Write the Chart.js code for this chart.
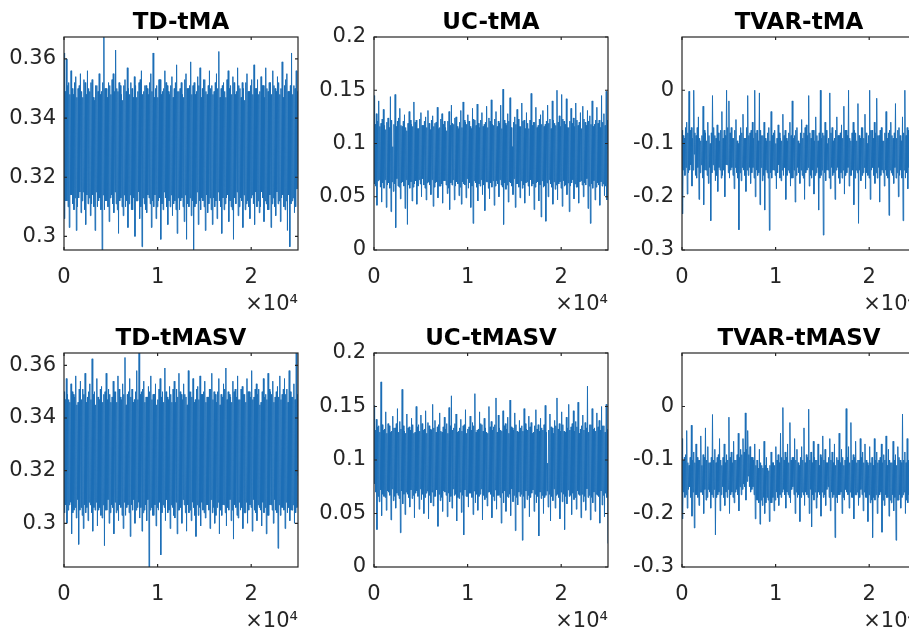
<!DOCTYPE html>
<html>
<head>
<meta charset="utf-8">
<title>Posterior draws</title>
<script src="https://cdn.jsdelivr.net/npm/chart.js@4.4.0/dist/chart.umd.min.js"></script>
<style>
  html, body { margin: 0; padding: 0; background: #fff; overflow: hidden; width: 909px; height: 634px; }
  canvas { position: absolute; }
</style>
</head>
<body>
<script>
// ---- data -------------------------------------------------------------
const panelTitles = ['TD-tMA', 'UC-tMA', 'TVAR-tMA', 'TD-tMASV', 'UC-tMASV', 'TVAR-tMASV'];
const totalIterations = 25000;
const xTickValues = [0, 10000, 20000];
const tdTicks = [0.30, 0.32, 0.34, 0.36];
const ucTicks = [0, 0.05, 0.1, 0.15, 0.2];
const tvarTicks = [-0.3, -0.2, -0.1, 0];
const ucLimits = [0, 0.2];
const tvarLimits = [-0.3, 0.1];

// thinned chains of posterior draws (evenly spaced over the run)
const tdTmaDraws = [
  0.362,0.306,0.349,0.312, 0.360,0.312,0.351,0.310, 0.352,0.303,0.348,0.314, 0.356,0.314,0.350,0.311, 0.348,0.309,0.352,0.313,
  0.354,0.302,0.347,0.310, 0.350,0.313,0.351,0.315, 0.355,0.308,0.349,0.312, 0.347,0.315,0.353,0.309, 0.352,0.304,0.348,0.314,
  0.356,0.311,0.350,0.313, 0.349,0.307,0.352,0.311, 0.353,0.314,0.347,0.310, 0.346,0.302,0.351,0.315, 0.351,0.310,0.349,0.312,
  0.355,0.313,0.348,0.309, 0.349,0.2954,0.352,0.314, 0.3674,0.309,0.350,0.312, 0.350,0.312,0.347,0.310, 0.352,0.305,0.351,0.313,
  0.348,0.314,0.353,0.311, 0.355,0.308,0.349,0.315, 0.363,0.311,0.350,0.309, 0.349,0.301,0.352,0.312, 0.351,0.313,0.348,0.310,
  0.346,0.307,0.351,0.314, 0.353,0.310,0.349,0.312, 0.357,0.303,0.350,0.311, 0.348,0.314,0.352,0.309, 0.350,0.309,0.347,0.313,
  0.354,0.300,0.351,0.312, 0.347,0.312,0.349,0.315, 0.352,0.306,0.353,0.310, 0.356,0.2965,0.348,0.313, 0.349,0.311,0.351,0.309,
  0.351,0.308,0.350,0.314, 0.348,0.313,0.352,0.311, 0.355,0.303,0.349,0.312, 0.362,0.310,0.347,0.314, 0.350,0.306,0.351,0.310,
  0.347,0.312,0.353,0.313, 0.353,0.299,0.348,0.311, 0.349,0.309,0.350,0.315, 0.356,0.313,0.352,0.310, 0.351,0.304,0.349,0.312,
  0.348,0.310,0.351,0.314, 0.354,0.307,0.347,0.311, 0.350,0.312,0.352,0.309, 0.358,0.301,0.349,0.313, 0.349,0.309,0.350,0.312,
  0.352,0.313,0.348,0.310, 0.347,0.305,0.353,0.314, 0.355,0.299,0.350,0.311, 0.350,0.310,0.351,0.313, 0.359,0.307,0.348,0.312,
  0.351,0.2955,0.352,0.310, 0.348,0.311,0.349,0.315, 0.354,0.304,0.351,0.312, 0.357,0.309,0.347,0.313, 0.350,0.312,0.353,0.310,
  0.353,0.302,0.349,0.314, 0.348,0.308,0.351,0.311, 0.356,0.313,0.350,0.309, 0.351,0.304,0.348,0.313, 0.349,0.310,0.352,0.312,
  0.355,0.306,0.350,0.315, 0.3625,0.312,0.347,0.310, 0.350,0.301,0.351,0.313, 0.352,0.309,0.349,0.311, 0.347,0.313,0.353,0.314,
  0.356,0.305,0.350,0.312, 0.351,0.310,0.348,0.309, 0.354,0.299,0.352,0.313, 0.348,0.311,0.349,0.315, 0.357,0.307,0.351,0.310,
  0.350,0.313,0.347,0.312, 0.352,0.303,0.350,0.314, 0.346,0.309,0.352,0.311, 0.355,0.312,0.349,0.310, 0.349,0.306,0.351,0.313,
  0.353,0.314,0.348,0.311, 0.358,0.304,0.350,0.315, 0.350,0.310,0.353,0.312, 0.348,0.308,0.349,0.310, 0.354,0.315,0.351,0.313,
  0.351,0.305,0.347,0.312, 0.357,0.311,0.350,0.309, 0.349,0.309,0.352,0.314, 0.352,0.303,0.348,0.311, 0.356,0.313,0.351,0.310,
  0.350,0.307,0.349,0.315, 0.354,0.311,0.352,0.312, 0.348,0.305,0.350,0.313, 0.359,0.314,0.347,0.310, 0.351,0.309,0.353,0.312,
  0.355,0.302,0.349,0.314, 0.349,0.2965,0.351,0.311, 0.362,0.312,0.348,0.313, 0.351,0.308,0.350,0.310, 0.356,0.316,0.349,0.321
];

const ucTmaDraws = [
  0.145,0.062,0.118,0.060, 0.128,0.042,0.121,0.065, 0.140,0.066,0.116,0.059, 0.119,0.045,0.123,0.063, 0.132,0.058,0.117,0.066,
  0.113,0.040,0.120,0.061, 0.124,0.063,0.115,0.058, 0.144,0.036,0.122,0.064, 0.097,0.055,0.118,0.062, 0.146,0.021,0.116,0.067,
  0.121,0.060,0.124,0.059, 0.133,0.048,0.117,0.063, 0.116,0.064,0.121,0.060, 0.127,0.039,0.115,0.066, 0.112,0.024,0.119,0.061,
  0.130,0.058,0.122,0.064, 0.118,0.046,0.116,0.059, 0.139,0.062,0.120,0.065, 0.122,0.043,0.114,0.060, 0.114,0.066,0.123,0.062,
  0.129,0.050,0.117,0.067, 0.117,0.061,0.121,0.058, 0.125,0.047,0.115,0.063, 0.131,0.064,0.119,0.061, 0.113,0.052,0.122,0.066,
  0.126,0.041,0.116,0.059, 0.119,0.063,0.120,0.064, 0.134,0.049,0.114,0.060, 0.115,0.060,0.123,0.062, 0.128,0.044,0.118,0.065,
  0.121,0.065,0.115,0.061, 0.112,0.053,0.121,0.058, 0.130,0.038,0.117,0.063, 0.136,0.061,0.119,0.066, 0.118,0.047,0.124,0.060,
  0.125,0.064,0.116,0.062, 0.114,0.051,0.120,0.059, 0.131,0.043,0.115,0.064, 0.139,0.062,0.122,0.061, 0.120,0.049,0.118,0.067,
  0.127,0.058,0.121,0.063, 0.116,0.040,0.114,0.060, 0.133,0.025,0.123,0.065, 0.122,0.063,0.117,0.059, 0.137,0.046,0.119,0.062,
  0.115,0.060,0.122,0.066, 0.129,0.052,0.116,0.061, 0.118,0.037,0.120,0.064, 0.135,0.064,0.115,0.058, 0.124,0.048,0.121,0.063,
  0.141,0.059,0.118,0.065, 0.117,0.042,0.123,0.060, 0.130,0.065,0.116,0.062, 0.121,0.050,0.119,0.066, 0.136,0.061,0.114,0.059,
  0.151,0.024,0.122,0.063, 0.119,0.057,0.117,0.061, 0.128,0.045,0.121,0.064, 0.143,0.063,0.115,0.060, 0.097,0.052,0.120,0.067,
  0.125,0.040,0.118,0.062, 0.132,0.062,0.123,0.059, 0.116,0.049,0.116,0.065, 0.138,0.058,0.121,0.061, 0.122,0.044,0.114,0.063,
  0.129,0.064,0.119,0.060, 0.114,0.051,0.122,0.066, 0.147,0.060,0.117,0.062, 0.120,0.038,0.120,0.059, 0.134,0.063,0.115,0.064,
  0.117,0.046,0.123,0.061, 0.127,0.031,0.118,0.065, 0.131,0.059,0.116,0.060, 0.118,0.027,0.121,0.063, 0.136,0.050,0.119,0.066,
  0.123,0.062,0.114,0.059, 0.140,0.043,0.122,0.064, 0.119,0.057,0.117,0.061, 0.150,0.047,0.120,0.062, 0.126,0.064,0.116,0.058,
  0.146,0.041,0.123,0.065, 0.121,0.060,0.118,0.061, 0.142,0.052,0.115,0.063, 0.115,0.036,0.121,0.060, 0.133,0.063,0.119,0.066,
  0.124,0.048,0.116,0.062, 0.138,0.059,0.122,0.059, 0.117,0.044,0.120,0.064, 0.129,0.065,0.114,0.061, 0.135,0.050,0.123,0.063,
  0.120,0.061,0.117,0.067, 0.131,0.039,0.121,0.060, 0.126,0.025,0.118,0.062, 0.140,0.058,0.116,0.065, 0.118,0.047,0.122,0.059,
  0.134,0.063,0.119,0.061, 0.122,0.042,0.115,0.064, 0.145,0.060,0.120,0.062, 0.128,0.051,0.117,0.060, 0.149,0.047,0.122,0.094
];

const tvarTmaDraws = [
  -0.075,-0.232,-0.085,-0.150, -0.090,-0.160,-0.070,-0.145, -0.060,-0.195,-0.080,-0.155, -0.002,-0.150,-0.075,-0.140, -0.070,-0.180,-0.090,-0.150,
  0.000,-0.120,-0.080,-0.160, -0.085,-0.165,-0.070,-0.145, -0.050,-0.205,-0.090,-0.155, -0.095,-0.140,-0.085,-0.165, -0.030,-0.215,-0.075,-0.150,
  -0.080,-0.150,-0.095,-0.160, -0.060,-0.175,-0.085,-0.145, -0.100,-0.245,-0.080,-0.155, -0.010,-0.140,-0.070,-0.150, -0.085,-0.170,-0.090,-0.160,
  -0.065,-0.190,-0.080,-0.145, -0.095,-0.150,-0.075,-0.165, -0.040,-0.160,-0.090,-0.150, -0.075,-0.200,-0.085,-0.140, 0.000,-0.140,-0.070,-0.155,
  -0.020,-0.165,-0.080,-0.150, -0.070,-0.145,-0.090,-0.160, -0.090,-0.185,-0.075,-0.145, -0.055,-0.155,-0.095,-0.165, -0.100,-0.262,-0.085,-0.155,
  -0.070,-0.170,-0.080,-0.145, -0.045,-0.150,-0.090,-0.160, -0.090,-0.190,-0.070,-0.150, -0.010,-0.160,-0.085,-0.145, -0.080,-0.175,-0.075,-0.155,
  -0.060,-0.145,-0.090,-0.165, 0.000,-0.200,-0.080,-0.150, -0.075,-0.160,-0.095,-0.155, -0.005,-0.215,-0.075,-0.145, -0.085,-0.170,-0.085,-0.160,
  -0.060,-0.225,-0.090,-0.150, -0.095,-0.155,-0.080,-0.165, -0.070,-0.263,-0.095,-0.155, -0.040,-0.165,-0.085,-0.150, -0.080,-0.150,-0.075,-0.160,
  -0.100,-0.185,-0.090,-0.155, -0.065,-0.140,-0.080,-0.165, -0.090,-0.170,-0.095,-0.150, -0.045,-0.160,-0.085,-0.145, -0.075,-0.205,-0.090,-0.160,
  -0.095,-0.150,-0.080,-0.155, -0.060,-0.180,-0.085,-0.165, -0.020,-0.165,-0.090,-0.150, -0.085,-0.210,-0.075,-0.160, -0.070,-0.145,-0.095,-0.155,
  -0.100,-0.175,-0.080,-0.150, -0.055,-0.160,-0.090,-0.165, -0.080,-0.205,-0.070,-0.155, -0.065,-0.150,-0.085,-0.145, -0.010,-0.180,-0.080,-0.160,
  -0.090,-0.165,-0.075,-0.150, -0.075,-0.195,-0.095,-0.160, -0.050,-0.155,-0.085,-0.145, -0.095,-0.225,-0.080,-0.165, 0.000,-0.160,-0.090,-0.150,
  -0.080,-0.272,-0.085,-0.155, -0.060,-0.170,-0.075,-0.150, -0.100,-0.150,-0.090,-0.165, -0.005,-0.185,-0.080,-0.145, -0.070,-0.160,-0.095,-0.155,
  -0.090,-0.205,-0.075,-0.150, -0.050,-0.145,-0.085,-0.165, -0.085,-0.175,-0.080,-0.155, -0.065,-0.165,-0.090,-0.150, -0.030,-0.195,-0.075,-0.160,
  -0.075,-0.155,-0.085,-0.145, 0.000,-0.180,-0.090,-0.160, -0.095,-0.160,-0.080,-0.150, -0.060,-0.215,-0.075,-0.165, -0.080,-0.150,-0.095,-0.155,
  -0.025,-0.250,-0.085,-0.150, -0.090,-0.170,-0.070,-0.160, -0.070,-0.155,-0.090,-0.145, -0.045,-0.185,-0.080,-0.155, -0.100,-0.160,-0.085,-0.165,
  0.000,-0.205,-0.075,-0.150, -0.075,-0.145,-0.090,-0.160, -0.060,-0.175,-0.080,-0.155, -0.015,-0.165,-0.085,-0.145, -0.085,-0.210,-0.075,-0.160,
  -0.070,-0.150,-0.095,-0.155, -0.095,-0.180,-0.080,-0.150, -0.040,-0.160,-0.090,-0.165, -0.080,-0.235,-0.075,-0.150, -0.060,-0.155,-0.085,-0.160,
  -0.090,-0.175,-0.080,-0.145, -0.025,-0.165,-0.090,-0.155, -0.075,-0.200,-0.070,-0.160, -0.085,-0.150,-0.095,-0.165, -0.050,-0.245,-0.080,-0.150,
  0.000,-0.165,-0.085,-0.155, -0.070,-0.185,-0.075,-0.145, -0.090,-0.220,-0.090,-0.160, -0.055,-0.160,-0.080,-0.150, -0.080,-0.130,-0.085,-0.150
];

const tdTmasvDraws = [
  0.350,0.304,0.347,0.307, 0.355,0.300,0.349,0.305, 0.347,0.307,0.346,0.308, 0.353,0.296,0.350,0.304, 0.349,0.305,0.348,0.306,
  0.356,0.302,0.345,0.309, 0.346,0.292,0.351,0.305, 0.354,0.306,0.347,0.303, 0.351,0.298,0.349,0.307, 0.357,0.304,0.346,0.306,
  0.348,0.301,0.350,0.308, 0.353,0.307,0.347,0.304, 0.3625,0.297,0.349,0.306, 0.350,0.305,0.345,0.308, 0.355,0.299,0.348,0.305,
  0.347,0.306,0.351,0.303, 0.352,0.302,0.346,0.307, 0.349,0.2915,0.350,0.305, 0.357,0.305,0.347,0.309, 0.351,0.300,0.349,0.304,
  0.346,0.307,0.348,0.306, 0.354,0.296,0.350,0.308, 0.350,0.304,0.346,0.305, 0.356,0.301,0.351,0.307, 0.348,0.306,0.347,0.303,
  0.353,0.298,0.349,0.308, 0.363,0.303,0.345,0.306, 0.349,0.307,0.350,0.304, 0.355,0.295,0.348,0.307, 0.351,0.305,0.346,0.309,
  0.347,0.300,0.350,0.305, 0.358,0.306,0.347,0.308, 0.3647,0.302,0.349,0.306, 0.350,0.297,0.351,0.304, 0.354,0.305,0.346,0.307,
  0.348,0.301,0.348,0.309, 0.352,0.2834,0.350,0.305, 0.356,0.306,0.347,0.303, 0.349,0.303,0.349,0.307, 0.353,0.299,0.345,0.306,
  0.347,0.305,0.351,0.308, 0.355,0.288,0.348,0.304, 0.350,0.307,0.346,0.306, 0.359,0.301,0.350,0.309, 0.348,0.304,0.347,0.305,
  0.352,0.298,0.349,0.307, 0.346,0.306,0.351,0.303, 0.354,0.302,0.346,0.308, 0.351,0.296,0.348,0.305, 0.357,0.305,0.350,0.306,
  0.349,0.300,0.347,0.309, 0.353,0.307,0.349,0.304, 0.348,0.297,0.345,0.307, 0.358,0.304,0.350,0.305, 0.350,0.301,0.348,0.308,
  0.355,0.306,0.346,0.303, 0.347,0.295,0.351,0.307, 0.352,0.303,0.347,0.306, 0.356,0.299,0.349,0.308, 0.349,0.305,0.350,0.304,
  0.354,0.302,0.346,0.307, 0.348,0.307,0.348,0.305, 0.351,0.298,0.351,0.309, 0.357,0.304,0.347,0.306, 0.350,0.300,0.349,0.303,
  0.346,0.306,0.350,0.308, 0.355,0.296,0.345,0.305, 0.349,0.303,0.348,0.307, 0.353,0.307,0.351,0.304, 0.359,0.299,0.347,0.306,
  0.350,0.305,0.349,0.309, 0.348,0.301,0.346,0.305, 0.354,0.294,0.350,0.307, 0.351,0.306,0.348,0.303, 0.356,0.302,0.347,0.308,
  0.347,0.305,0.351,0.306, 0.352,0.298,0.349,0.304, 0.349,0.304,0.346,0.308, 0.355,0.300,0.350,0.305, 0.350,0.307,0.348,0.306,
  0.358,0.297,0.347,0.309, 0.348,0.305,0.351,0.304, 0.353,0.301,0.349,0.307, 0.351,0.306,0.345,0.305, 0.346,0.299,0.350,0.308,
  0.355,0.304,0.348,0.306, 0.349,0.296,0.347,0.303, 0.357,0.303,0.351,0.307, 0.350,0.307,0.349,0.305, 0.354,0.300,0.346,0.309,
  0.348,0.305,0.350,0.304, 0.352,0.2905,0.348,0.307, 0.356,0.303,0.347,0.306, 0.349,0.306,0.351,0.305, 0.355,0.298,0.349,0.308,
  0.351,0.304,0.346,0.306, 0.358,0.301,0.350,0.305, 0.348,0.305,0.348,0.307, 0.353,0.300,0.347,0.304, 0.3647,0.306,0.349,0.318
];

const ucTmasvDraws = [
  0.151,0.078,0.128,0.070, 0.138,0.035,0.131,0.066, 0.132,0.061,0.126,0.072, 0.173,0.048,0.133,0.068, 0.128,0.066,0.129,0.065,
  0.145,0.053,0.125,0.071, 0.134,0.070,0.132,0.067, 0.126,0.044,0.127,0.073, 0.141,0.062,0.130,0.066, 0.130,0.055,0.134,0.069,
  0.148,0.067,0.126,0.064, 0.136,0.032,0.129,0.071, 0.166,0.059,0.132,0.068, 0.127,0.049,0.125,0.070, 0.143,0.068,0.130,0.065,
  0.131,0.056,0.128,0.072, 0.139,0.064,0.133,0.067, 0.125,0.046,0.126,0.069, 0.150,0.071,0.131,0.066, 0.133,0.054,0.127,0.073,
  0.142,0.063,0.134,0.068, 0.128,0.050,0.129,0.065, 0.146,0.069,0.125,0.071, 0.135,0.045,0.132,0.067, 0.129,0.060,0.128,0.070,
  0.152,0.057,0.130,0.066, 0.137,0.066,0.126,0.072, 0.131,0.038,0.133,0.068, 0.144,0.062,0.127,0.065, 0.126,0.052,0.131,0.071,
  0.140,0.070,0.129,0.067, 0.134,0.047,0.125,0.069, 0.149,0.061,0.132,0.066, 0.160,0.055,0.128,0.073, 0.130,0.067,0.134,0.068,
  0.143,0.043,0.126,0.065, 0.127,0.064,0.130,0.070, 0.138,0.051,0.127,0.067, 0.132,0.030,0.133,0.072, 0.147,0.066,0.125,0.066,
  0.129,0.056,0.131,0.069, 0.141,0.069,0.128,0.065, 0.135,0.049,0.132,0.071, 0.162,0.060,0.126,0.068, 0.128,0.053,0.129,0.066,
  0.145,0.068,0.134,0.073, 0.133,0.044,0.127,0.067, 0.139,0.063,0.130,0.065, 0.126,0.057,0.125,0.070, 0.150,0.070,0.131,0.068,
  0.136,0.046,0.128,0.066, 0.131,0.062,0.133,0.072, 0.158,0.054,0.126,0.067, 0.142,0.067,0.130,0.065, 0.128,0.041,0.127,0.069,
  0.146,0.060,0.132,0.071, 0.134,0.052,0.129,0.066, 0.140,0.065,0.125,0.068, 0.156,0.048,0.131,0.073, 0.130,0.061,0.128,0.067,
  0.144,0.034,0.133,0.065, 0.127,0.058,0.126,0.070, 0.137,0.066,0.130,0.068, 0.132,0.025,0.127,0.066, 0.148,0.055,0.134,0.071,
  0.129,0.063,0.128,0.067, 0.141,0.047,0.131,0.065, 0.135,0.069,0.125,0.072, 0.126,0.052,0.132,0.068, 0.147,0.060,0.129,0.066,
  0.133,0.029,0.127,0.070, 0.139,0.064,0.130,0.067, 0.128,0.050,0.133,0.065, 0.151,0.067,0.126,0.071, 0.097,0.056,0.128,0.068,
  0.143,0.043,0.131,0.066, 0.130,0.062,0.125,0.073, 0.137,0.055,0.132,0.067, 0.158,0.068,0.129,0.065, 0.134,0.045,0.127,0.070,
  0.145,0.061,0.133,0.068, 0.127,0.035,0.126,0.066, 0.140,0.059,0.130,0.072, 0.152,0.066,0.128,0.067, 0.131,0.049,0.134,0.069,
  0.146,0.063,0.127,0.065, 0.136,0.054,0.131,0.071, 0.154,0.068,0.125,0.067, 0.129,0.046,0.132,0.068, 0.142,0.061,0.128,0.066,
  0.135,0.053,0.130,0.073, 0.169,0.065,0.126,0.067, 0.133,0.044,0.133,0.065, 0.148,0.060,0.129,0.070, 0.130,0.052,0.127,0.068,
  0.144,0.067,0.131,0.066, 0.137,0.041,0.128,0.071, 0.150,0.058,0.132,0.067, 0.132,0.047,0.126,0.069, 0.152,0.065,0.129,0.022
];

const tvarTmasvDraws = [
  -0.060,-0.210,-0.100,-0.160, -0.095,-0.170,-0.090,-0.165, -0.045,-0.190,-0.105,-0.155, -0.110,-0.150,-0.095,-0.170, -0.035,-0.205,-0.100,-0.160,
  -0.085,-0.227,-0.105,-0.165, -0.070,-0.165,-0.095,-0.170, -0.100,-0.185,-0.100,-0.160, -0.055,-0.160,-0.110,-0.165, -0.090,-0.200,-0.095,-0.155,
  -0.040,-0.175,-0.100,-0.170, -0.075,-0.155,-0.105,-0.160, -0.105,-0.190,-0.095,-0.165, -0.015,-0.170,-0.100,-0.155, -0.080,-0.240,-0.105,-0.170,
  -0.095,-0.165,-0.090,-0.160, -0.060,-0.195,-0.100,-0.165, -0.110,-0.150,-0.095,-0.170, -0.070,-0.185,-0.105,-0.160, -0.090,-0.170,-0.100,-0.155,
  -0.020,-0.200,-0.095,-0.165, -0.085,-0.160,-0.105,-0.170, -0.065,-0.180,-0.100,-0.160, -0.100,-0.155,-0.090,-0.165, -0.050,-0.195,-0.095,-0.150,
  -0.080,-0.165,-0.090,-0.155, -0.060,-0.145,-0.085,-0.150, -0.012,-0.175,-0.080,-0.140, -0.045,-0.130,-0.090,-0.150, -0.075,-0.160,-0.095,-0.155,
  -0.095,-0.150,-0.100,-0.165, -0.070,-0.210,-0.110,-0.175, -0.100,-0.175,-0.115,-0.180, -0.080,-0.220,-0.105,-0.175, -0.110,-0.185,-0.115,-0.170,
  -0.065,-0.200,-0.110,-0.180, -0.095,-0.170,-0.115,-0.175, -0.120,-0.215,-0.110,-0.180, -0.085,-0.180,-0.105,-0.170, -0.105,-0.195,-0.110,-0.175,
  -0.075,-0.160,-0.100,-0.170, -0.090,-0.185,-0.105,-0.165, -0.050,-0.170,-0.095,-0.160, -0.002,-0.155,-0.100,-0.165, -0.085,-0.190,-0.095,-0.160,
  -0.070,-0.165,-0.105,-0.170, -0.030,-0.180,-0.100,-0.155, -0.095,-0.150,-0.095,-0.165, -0.060,-0.200,-0.100,-0.160, -0.080,-0.170,-0.105,-0.165,
  -0.110,-0.215,-0.095,-0.170, -0.075,-0.160,-0.100,-0.165, -0.040,-0.185,-0.105,-0.160, -0.090,-0.165,-0.095,-0.170, -0.005,-0.200,-0.100,-0.155,
  -0.085,-0.225,-0.105,-0.165, -0.065,-0.175,-0.095,-0.160, -0.100,-0.190,-0.100,-0.170, -0.070,-0.160,-0.110,-0.165, -0.090,-0.205,-0.095,-0.160,
  -0.055,-0.170,-0.100,-0.165, -0.080,-0.185,-0.105,-0.155, -0.105,-0.150,-0.095,-0.170, -0.060,-0.195,-0.100,-0.160, -0.085,-0.170,-0.105,-0.165,
  -0.070,-0.245,-0.110,-0.170, -0.095,-0.180,-0.100,-0.165, -0.050,-0.165,-0.105,-0.160, -0.080,-0.200,-0.095,-0.170, -0.110,-0.175,-0.100,-0.155,
  -0.004,-0.160,-0.095,-0.165, -0.075,-0.190,-0.105,-0.160, -0.030,-0.170,-0.100,-0.170, -0.090,-0.210,-0.095,-0.165, -0.065,-0.165,-0.105,-0.160,
  -0.100,-0.185,-0.100,-0.170, -0.060,-0.155,-0.095,-0.165, -0.085,-0.195,-0.105,-0.160, -0.070,-0.170,-0.100,-0.170, -0.105,-0.215,-0.110,-0.165,
  -0.075,-0.180,-0.105,-0.175, -0.095,-0.245,-0.110,-0.170, -0.060,-0.175,-0.100,-0.165, -0.085,-0.200,-0.105,-0.170, -0.100,-0.165,-0.095,-0.160,
  -0.070,-0.235,-0.105,-0.175, -0.090,-0.185,-0.100,-0.165, -0.055,-0.170,-0.110,-0.170, -0.080,-0.205,-0.100,-0.175, -0.105,-0.180,-0.105,-0.165,
  -0.065,-0.195,-0.100,-0.170, -0.090,-0.250,-0.110,-0.175, -0.075,-0.175,-0.095,-0.165, -0.100,-0.190,-0.105,-0.170, -0.014,-0.165,-0.100,-0.160,
  -0.085,-0.200,-0.105,-0.175, -0.060,-0.180,-0.100,-0.165, -0.095,-0.215,-0.110,-0.170, -0.075,-0.170,-0.100,-0.165, -0.090,-0.140,-0.105,-0.150
];

// ---- styling ----------------------------------------------------------
const fontFamily = "'DejaVu Sans', sans-serif";
const inkColour = '#262626';
const traceColour = 'rgb(28,110,182)';

// grid of axes: plot-area origins and sizes in page pixels
const colLeft = [64, 374, 682];
const rowTop = [37, 353];
const rowHeight = [213, 214];
const plotWidth = 234;
const yAxisWidth = 64;
const titleBand = 37;
const xAxisBand = 72;
const rightPad = 14;

// boxed axes with inward tick marks on all four sides
const axesFrame = {
  id: 'axesFrame',
  afterDatasetsDraw(chart) {
    const { ctx, chartArea: a, scales } = chart;
    const tickLen = 3;
    ctx.save();
    ctx.strokeStyle = inkColour;
    ctx.lineWidth = 1.2;
    ctx.beginPath();
    for (const t of scales.x.ticks) {
      const px = scales.x.getPixelForValue(t.value);
      ctx.moveTo(px, a.bottom); ctx.lineTo(px, a.bottom - tickLen);
      ctx.moveTo(px, a.top); ctx.lineTo(px, a.top + tickLen);
    }
    for (const t of scales.y.ticks) {
      const py = scales.y.getPixelForValue(t.value);
      ctx.moveTo(a.left, py); ctx.lineTo(a.left + tickLen, py);
      ctx.moveTo(a.right, py); ctx.lineTo(a.right - tickLen, py);
    }
    ctx.stroke();
    ctx.strokeRect(a.left, a.top, a.right - a.left, a.bottom - a.top);
    ctx.restore();
  }
};

const dataRange = arr => [Math.min(...arr), Math.max(...arr)];

const panels = [
  { title: panelTitles[0], draws: tdTmaDraws, ticks: tdTicks, range: dataRange(tdTmaDraws) },
  { title: panelTitles[1], draws: ucTmaDraws, ticks: ucTicks, range: ucLimits },
  { title: panelTitles[2], draws: tvarTmaDraws, ticks: tvarTicks, range: tvarLimits },
  { title: panelTitles[3], draws: tdTmasvDraws, ticks: tdTicks, range: dataRange(tdTmasvDraws) },
  { title: panelTitles[4], draws: ucTmasvDraws, ticks: ucTicks, range: ucLimits },
  { title: panelTitles[5], draws: tvarTmasvDraws, ticks: tvarTicks, range: tvarLimits }
];

const fmt = v => String(Math.round(v * 1000) / 1000);

panels.forEach((p, i) => {
  const col = i % 3, row = Math.floor(i / 3);
  const canvas = document.createElement('canvas');
  canvas.width = yAxisWidth + plotWidth + rightPad;
  canvas.height = titleBand + rowHeight[row] + xAxisBand;
  canvas.style.left = (colLeft[col] - yAxisWidth) + 'px';
  canvas.style.top = (rowTop[row] - titleBand) + 'px';
  document.body.appendChild(canvas);

  const step = totalIterations / (p.draws.length - 1);
  new Chart(canvas, {
    type: 'line',
    data: {
      datasets: [{
        data: p.draws.map((v, j) => ({ x: j * step, y: v })),
        borderColor: traceColour,
        borderWidth: 1,
        pointRadius: 0,
        tension: 0,
        fill: false
      }]
    },
    options: {
      responsive: false,
      animation: false,
      devicePixelRatio: 1,
      layout: { padding: { left: 0, right: rightPad, top: 0, bottom: 0 } },
      plugins: {
        legend: { display: false },
        tooltip: { enabled: false },
        title: {
          display: true,
          text: p.title,
          fullSize: false,
          color: '#000',
          font: { family: fontFamily, size: 23, weight: 'bold', lineHeight: 1.2 },
          padding: { top: 9, bottom: titleBand - 9 - 23 * 1.2 }
        }
      },
      scales: {
        x: {
          type: 'linear',
          min: 0,
          max: totalIterations,
          grid: { display: false, drawTicks: false },
          border: { display: false },
          afterBuildTicks: s => { s.ticks = xTickValues.map(v => ({ value: v })); },
          afterFit: s => { s.height = xAxisBand; },
          ticks: {
            padding: 15, color: inkColour, autoSkip: false, maxRotation: 0,
            font: { family: fontFamily, size: 21 },
            callback: v => String(v / 10000)
          },
          title: {
            display: true, text: '×10⁴', align: 'end', color: inkColour,
            font: { family: fontFamily, size: 21 },
            padding: { top: 0, bottom: 5 }
          }
        },
        y: {
          type: 'linear',
          min: p.range[0],
          max: p.range[1],
          grid: { display: false, drawTicks: false },
          border: { display: false },
          afterBuildTicks: s => { s.ticks = p.ticks.map(v => ({ value: v })); },
          afterFit: s => { s.width = yAxisWidth; },
          ticks: {
            padding: 8, color: inkColour, autoSkip: false,
            font: { family: fontFamily, size: 21 },
            callback: v => fmt(v)
          }
        }
      }
    },
    plugins: [axesFrame]
  });
});
</script>
</body>
</html>
